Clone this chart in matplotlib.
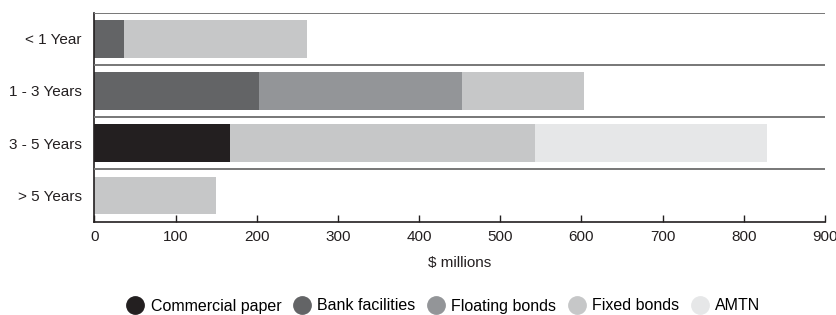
import matplotlib
matplotlib.use("Agg")
import matplotlib.pyplot as plt
from matplotlib.lines import Line2D
import numpy as np

plt.rcParams['font.family'] = ['Liberation Sans', 'DejaVu Sans']

categories = ["< 1 Year", "1 - 3 Years", "3 - 5 Years", "> 5 Years"]
series_names = ["Commercial paper", "Bank facilities", "Floating bonds", "Fixed bonds", "AMTN"]
commercial_paper = [0, 0, 167, 0]
bank_facilities = [37, 203, 0, 0]
floating_bonds = [0, 250, 0, 0]
fixed_bonds = [225, 150, 376, 150]
amtn = [0, 0, 285, 0]
xticks = [0, 100, 200, 300, 400, 500, 600, 700, 800, 900]

colors = ["#231f20", "#636466", "#939598", "#c6c7c8", "#e6e7e8"]
series = [commercial_paper, bank_facilities, floating_bonds, fixed_bonds, amtn]

fig = plt.figure(figsize=(8.37, 3.15), dpi=100)
ax = fig.add_axes([0.1127, 0.2968, 0.9857 - 0.1127, 0.9597 - 0.2968])

y = np.arange(len(categories))
left = np.zeros(len(categories))
for vals, c in zip(series, colors):
    vals = np.array(vals, dtype=float)
    ax.barh(y, vals, left=left, height=0.72, color=c, edgecolor='none')
    left += vals

ax.set_ylim(len(categories) - 0.5, -0.5)
ax.set_xlim(0, 900)
ax.set_yticks(y)
ax.set_yticklabels(categories, fontsize=11, color="#231f20")
ax.set_xticks(xticks)
ax.set_xticklabels([str(t) for t in xticks], fontsize=11, color="#231f20")
ax.tick_params(axis='y', length=0, pad=9)
ax.tick_params(axis='x', direction='in', length=5, width=1, color="#231f20", pad=6)

for b in np.arange(-0.5, len(categories) - 0.5, 1.0):
    ax.axhline(b, color="#777777", lw=1.4, zorder=3)

ax.spines['top'].set_visible(False)
ax.spines['right'].set_visible(False)
ax.spines['left'].set_color("#231f20")
ax.spines['bottom'].set_color("#231f20")
ax.spines['left'].set_linewidth(1.2)
ax.spines['bottom'].set_linewidth(1.2)

ax.set_xlabel("$ millions", fontsize=11, color="#231f20", labelpad=9)

handles = [Line2D([0], [0], marker='o', linestyle='none', markersize=12.5,
                  markerfacecolor=c, markeredgecolor=c) for c in colors]
fig.legend(handles, series_names, loc='center', bbox_to_anchor=(444 / 837, 1 - 306 / 315),
           ncol=5, frameon=False, fontsize=11.5, handlelength=1.0, handletextpad=0.45,
           columnspacing=0.8, borderaxespad=0)

fig.savefig("out.png", dpi=100)
